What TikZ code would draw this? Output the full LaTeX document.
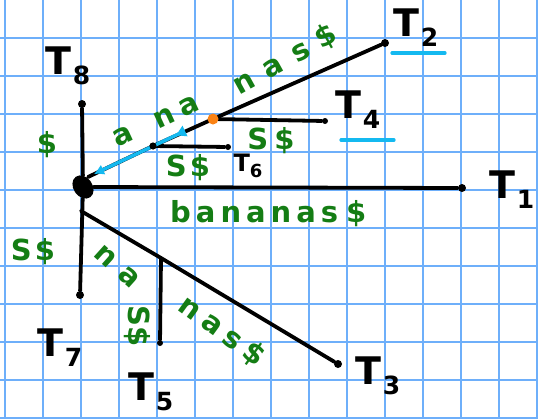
\documentclass[tikz,border=0pt]{standalone}
\usepackage{fontspec}
\setmainfont{DejaVu Sans}
\usetikzlibrary{arrows.meta,shapes.geometric}
\definecolor{gridblue}{RGB}{110,175,250}
\definecolor{hgreen}{RGB}{20,125,20}
\definecolor{hblue}{RGB}{20,185,240}
\definecolor{horange}{RGB}{250,130,20}
\tikzset{
 edge/.style={line width=3.8pt, line cap=round},
 leaf/.style={circle, fill=black, inner sep=0pt, minimum size=8pt},
 smallleaf/.style={circle, fill=black, inner sep=0pt, minimum size=6pt},
 rootnode/.style={ellipse, fill=black, inner sep=0pt, minimum width=19pt, minimum height=25pt, rotate=35},
 orangedot/.style={circle, fill=horange, inner sep=0pt, minimum size=11pt},
 lab/.style={text=hgreen, font=\bfseries\fontsize{29}{29}\selectfont, inner sep=0pt},
 tl/.style={text=black, inner sep=0pt, font=\bfseries},
 uline/.style={hblue, line width=3.2pt, line cap=round},
 gridline/.style={gridblue, line width=1.6pt},
 bluearrow/.style={hblue, line width=3.5pt, {Triangle[reversed,length=10pt,width=11pt]}-{Latex[length=10pt,width=11pt]}},
}
\newcommand\Tlab[1]{{\fontsize{38}{38}\selectfont T}\kern1pt\raisebox{-10pt}{\fontsize{25}{25}\selectfont #1}}
\newcommand\Tsmall[1]{{\fontsize{24}{24}\selectfont T}\raisebox{-6pt}{\fontsize{18}{18}\selectfont #1}}
\begin{document}
\begin{tikzpicture}[x=1pt,y=-1pt]
\fill[white] (0,0) rectangle (538,418);
\useasboundingbox (0,0) rectangle (538,418);
\foreach \i in {0,...,14} \draw[gridline] ({5+38*\i},0) -- ({5+38*\i},418);
\foreach \j in {1,...,11} \draw[gridline] (0,{38*\j}) -- (538,{38*\j});

% tree nodes
\node[rootnode] (root) at (83,187) {};
\node[leaf] (n8) at (82,104) {};
\node[leaf] (n7) at (80,295) {};
\node[leaf] (n1) at (462,188) {};
\node[leaf] (n2) at (385,43) {};
\node[smallleaf] (n4) at (325,121) {};
\node[smallleaf] (n6) at (228,147) {};
\node[leaf] (n3) at (338,364) {};
\node[smallleaf] (n5) at (160,343) {};
\coordinate (u) at (153,146);
\coordinate (o) at (213,119);
\coordinate (w) at (161,258);
\coordinate (ra) at (88,177);
\coordinate (rb) at (81,211);

% edges
\draw[edge] (root) -- (n8);
\draw[edge] (root) -- (n7);
\draw[edge] (root) -- (n1);
\draw[edge] (ra) -- (u) -- (o) -- (n2);
\draw[edge] (u) -- (n6);
\draw[edge] (o) -- (n4);
\draw[edge] (rb) -- (w) -- (n3);
\draw[edge] (w) -- (n5);

% blue arrow
\coordinate (bs) at (185,131);
\coordinate (be) at (94,174);
\draw[bluearrow] (bs) -- (be);
\fill (u) circle (3.6pt);
\node[orangedot] (odot) at (o) {};

% edge labels
\node[lab] (l8) at (47,145) {\$};
\node[lab, rotate=25] (la) at (123,136) {a};
\node[lab, rotate=25] (lna) at (177,112) {n\kern7pt a};
\node[lab, rotate=29] (lnas) at (285,60) {n\kern13pt a\kern13pt s\kern11pt\$};
\node[lab] (l6) at (188,168) {S\kern3pt\$};
\node[lab] (l4) at (271,141) {S\kern6pt\$};
\node[lab, anchor=base west] (l1) at (170,222) {b\kern5pt a\kern5pt n\kern5pt a\kern5pt n\kern5pt a\kern5pt s\kern8pt\$};
\node[lab] (l7) at (33,252) {S\kern3pt\$};
\node[lab, rotate=-42] (lna2) at (117,267) {n\kern11pt a};
\node[lab, rotate=-90] (l5) at (137,326) {S\$};
\node[lab, rotate=-36] (lnas2) at (222,331) {n\kern7pt a\kern7pt s\kern7pt\$};

% leaf labels
\node[tl] (t8) at (68,66) {\Tlab{8}};
\node[tl] (t2) at (416,28) {\Tlab{2}};
\node[tl] (t4) at (358,110) {\Tlab{4}};
\node[tl] (t6) at (248,166) {\Tsmall{6}};
\node[tl] (t1) at (512,190) {\Tlab{1}};
\node[tl] (t7) at (60,348) {\Tlab{7}};
\node[tl] (t5) at (151,392) {\Tlab{5}};
\node[tl] (t3) at (378,376) {\Tlab{3}};

% blue underlines
\coordinate (u2a) at (392,53);
\coordinate (u2b) at (445,53);
\coordinate (u4a) at (341,140);
\coordinate (u4b) at (394,140);
\draw[uline] (u2a) -- (u2b);
\draw[uline] (u4a) -- (u4b);
\end{tikzpicture}
\end{document}
